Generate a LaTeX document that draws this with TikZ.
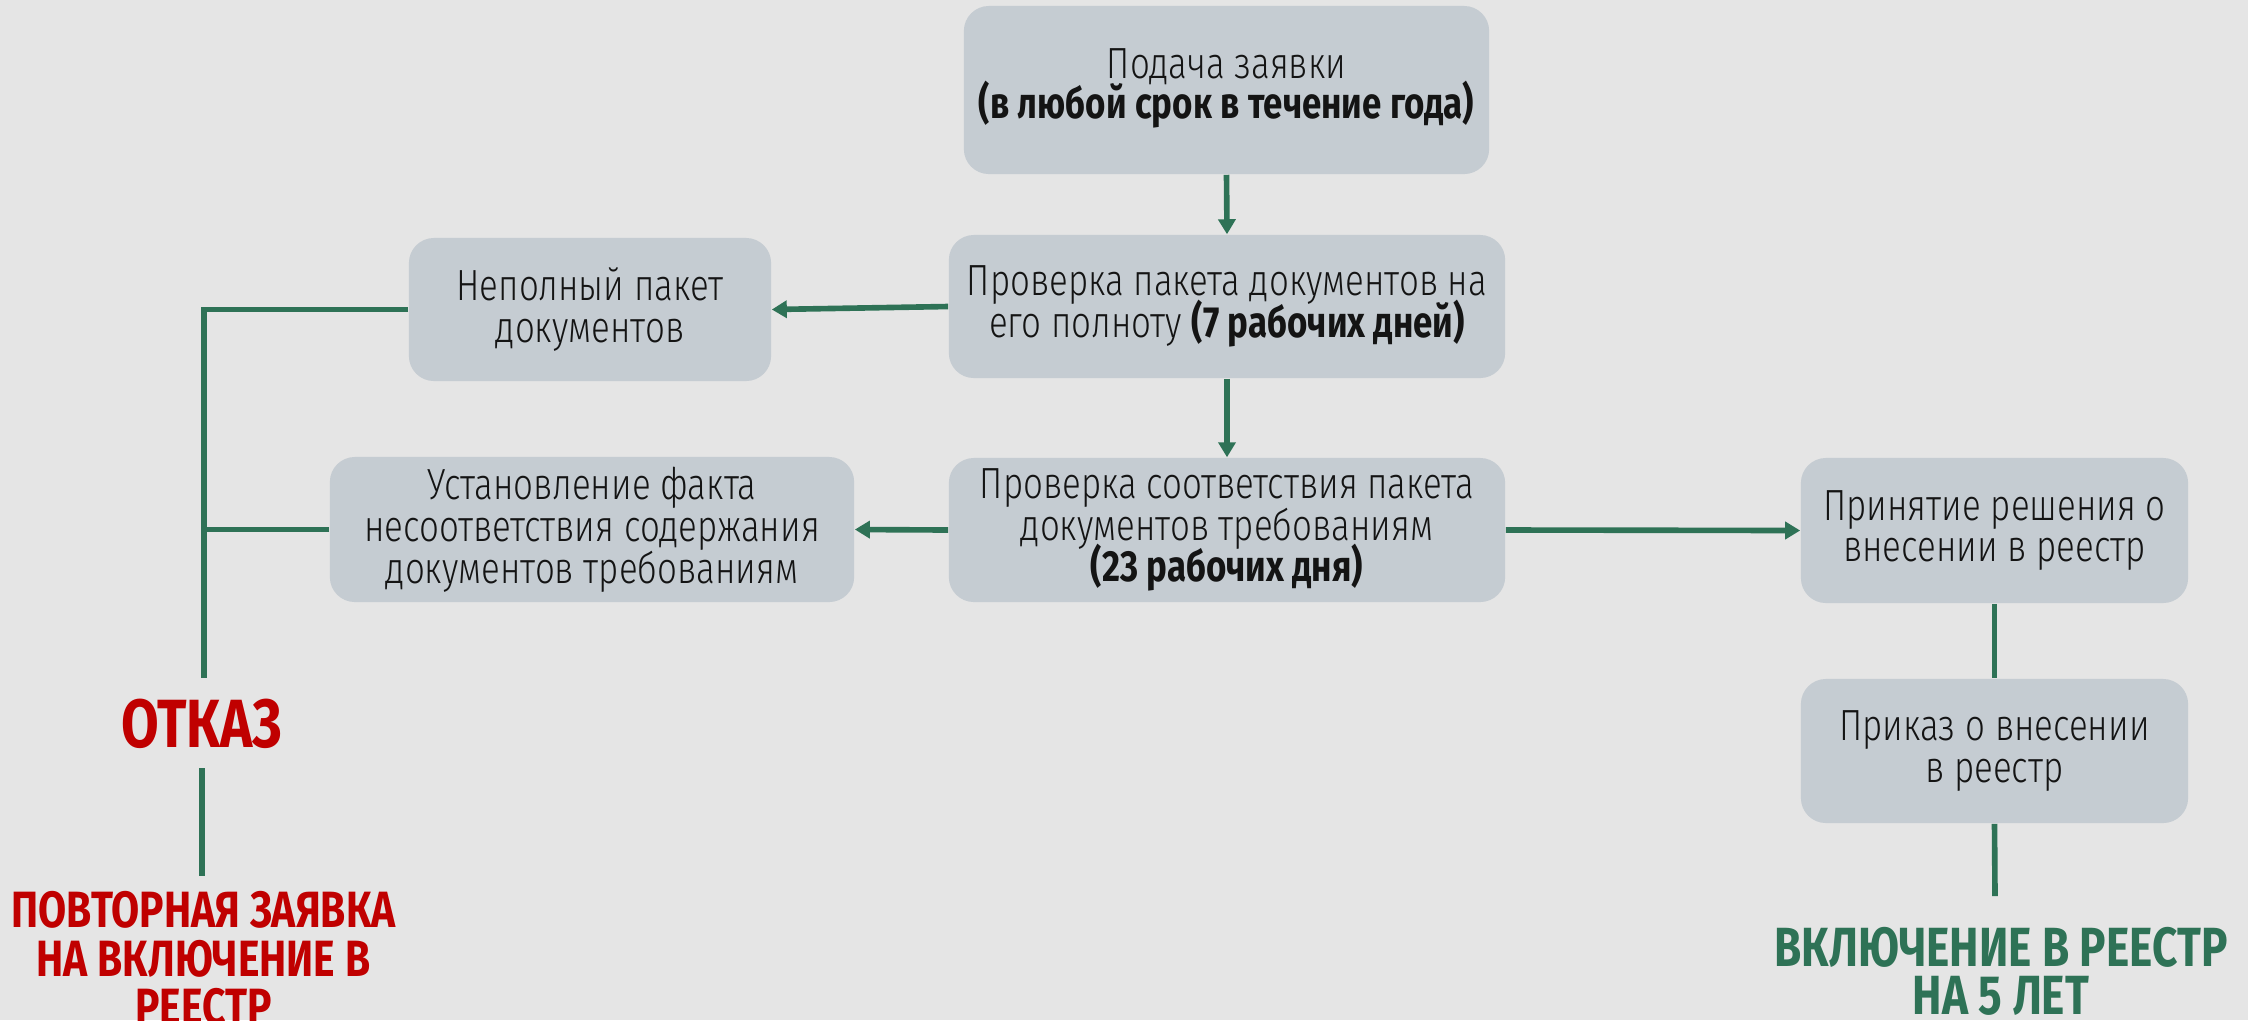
\documentclass[tikz,border=0pt]{standalone}
\usepackage{fontspec}
\setmainfont{Fira Sans Light}[BoldFont={Fira Sans Bold},FakeStretch=0.8]
\usetikzlibrary{arrows.meta}
\definecolor{bg}{HTML}{E5E5E5}
\definecolor{boxfill}{HTML}{C5CCD2}
\definecolor{grn}{HTML}{2E7256}
\definecolor{rd}{HTML}{C00000}
\newcommand\mytightlines{\lineskiplimit=-20pt\relax\lineskip=0pt\relax}
\begin{document}
\begin{tikzpicture}[x=0.01cm,y=-0.01cm,
  box/.style={draw=none, fill=boxfill, rounded corners=0.25cm, inner sep=0pt,
    align=center, text=black!92,
    font=\fontsize{12.4pt}{11.9pt}\selectfont\mytightlines},
  conn/.style={draw=grn, line width=1.6pt},
  arr/.style={conn, -{Triangle[length=0.15cm,width=0.17cm]}},
  bigred/.style={text=rd, inner sep=0pt, align=center},
  biggreen/.style={text=grn, inner sep=0pt, align=center}
]
\fill[bg] (0,0) rectangle (2248,1020);
\useasboundingbox (0,0) rectangle (2248,1020);

\node[box, minimum width=5.25cm, minimum height=1.68cm,
  font=\fontsize{12.4pt}{11.4pt}\selectfont\mytightlines] (b1) at (1226.5,90)
  {Подача заявки\\\textbf{(в любой срок в течение года)}\\[-0.27cm]};
\node[box, minimum width=5.56cm, minimum height=1.43cm] (b2) at (1227,306.5)
  {Проверка пакета документов на\\его полноту \textbf{(7 рабочих дней)}};
\node[box, minimum width=5.56cm, minimum height=1.44cm,
  font=\fontsize{12.4pt}{11.7pt}\selectfont\mytightlines] (b3) at (1227,530)
  {Проверка соответствия пакета\\документов требованиям\\\textbf{(23 рабочих дня)}};
\node[box, minimum width=3.62cm, minimum height=1.43cm] (n1) at (590,309.5)
  {Неполный пакет\\документов};
\node[box, minimum width=5.24cm, minimum height=1.45cm] (n2) at (592,529.5)
  {Установление факта\\несоответствия содержания\\документов требованиям};
\node[box, minimum width=3.87cm, minimum height=1.45cm] (r1) at (1994.5,530.5)
  {Принятие решения о\\внесении в реестр};
\node[box, minimum width=3.87cm, minimum height=1.44cm] (r2) at (1994.5,751)
  {Приказ о внесении\\в реестр};

\node[bigred, font=\bfseries\fontsize{19.4pt}{20pt}\selectfont] (otk) at (202,723.5) {ОТКАЗ};
\node[bigred, anchor=north, font=\bfseries\fontsize{14.5pt}{13.7pt}\selectfont] (rep) at (203.5,891)
  {ПОВТОРНАЯ ЗАЯВКА\\НА ВКЛЮЧЕНИЕ В\\РЕЕСТР};
\node[biggreen, anchor=north, font=\bfseries\fontsize{15.7pt}{13.4pt}\selectfont] (inc) at (2001,927)
  {ВКЛЮЧЕНИЕ В РЕЕСТР\\НА 5 ЛЕТ};

\coordinate (lend) at (204,678);
\coordinate (o1) at (202,768);
\coordinate (o2) at (202,876);
\coordinate (rend) at (1995,896);

\draw[arr] (b1.south) -- (b2.north);
\draw[arr] (b2.south) -- (b3.north);
\draw[arr] (b2.west) -- (n1.east);
\draw[arr] (b3.west) -- (n2.east);
\draw[arr] (b3.east) -- (r1.west);
\draw[conn] (r1.south) -- (r2.north);
\draw[conn] (r2.south) -- (rend);
\draw[conn] (n1.west) -| (lend);
\draw[conn] (n2.west) -- (n2.west -| lend);
\draw[conn] (o1) -- (o2);
\end{tikzpicture}
\end{document}
